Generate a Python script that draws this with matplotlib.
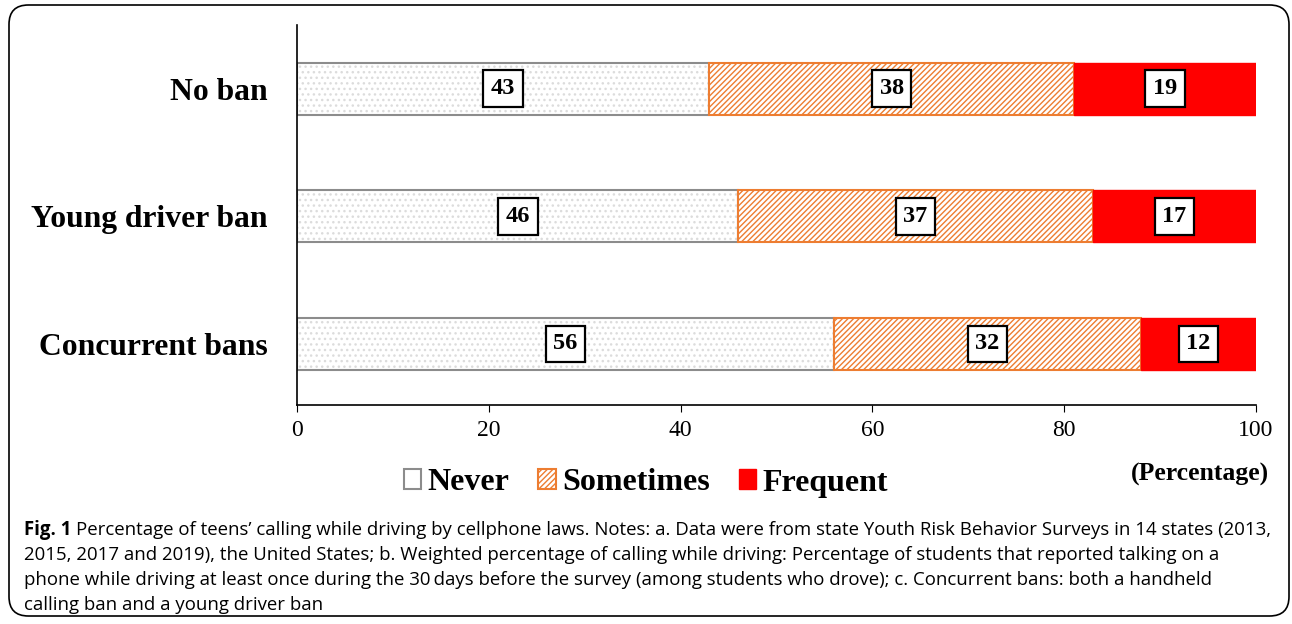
import matplotlib
matplotlib.use("Agg")
from matplotlib import pyplot as plt
from matplotlib.patches import FancyBboxPatch, Patch
import numpy as np

plt.rcParams['hatch.linewidth'] = 1.0

categories = ['No ban', 'Young driver ban', 'Concurrent bans']
never = [43, 46, 56]
sometimes = [38, 37, 32]
frequent = [19, 17, 12]
xticks = [0, 20, 40, 60, 80, 100]

serif = 'Liberation Serif'
sans = 'Open Sans'

fig = plt.figure(figsize=(12.92, 6.24), dpi=100)
ax = fig.add_axes([297 / 1292, 1 - 405 / 624, (1256 - 297) / 1292, (405 - 25) / 624])

y = np.arange(len(categories))
h = 0.41
never_l = np.zeros(3)
some_l = np.array(never)
freq_l = some_l + np.array(sometimes)

# Never: light dotted fill with grey outline
ax.barh(y, never, left=never_l, height=h, color='white', edgecolor='#dcdcdc',
        hatch='...', linewidth=0)
ax.barh(y, never, left=never_l, height=h, color='none', edgecolor='#8c8c8c', linewidth=1.5)
ax.barh(y, sometimes, left=some_l, height=h, color='white', edgecolor='#ed7d31',
        hatch='//////', linewidth=1.5)
ax.barh(y, frequent, left=freq_l, height=h, color='#ff0000', edgecolor='#ff0000', linewidth=1)

for lefts, vals in [(never_l, never), (some_l, sometimes), (freq_l, frequent)]:
    for i in range(3):
        ax.text(lefts[i] + vals[i] / 2, y[i], str(vals[i]), ha='center', va='center',
                family=serif, fontweight='bold', fontsize=17.5,
                bbox=dict(boxstyle='square,pad=0.32', fc='white', ec='black', lw=1.6))

ax.set_xlim(0, 100)
ax.set_ylim(2.48, -0.5)
ax.set_xticks(xticks)
ax.set_xticklabels([str(t) for t in xticks], family=serif, fontsize=17)
ax.set_yticks(y)
ax.set_yticklabels(categories, family=serif, fontweight='bold', fontsize=22.8)
ax.tick_params(axis='y', length=0, pad=21)
ax.tick_params(axis='x', length=5, direction='out', pad=6)
for s in ['top', 'right']:
    ax.spines[s].set_visible(False)
ax.spines['left'].set_linewidth(1.2)
ax.spines['bottom'].set_linewidth(1.2)

handles = [
    Patch(facecolor='white', edgecolor='#8c8c8c', linewidth=1.5, label='Never'),
    Patch(facecolor='white', edgecolor='#ed7d31', hatch='//////', linewidth=1.5, label='Sometimes'),
    Patch(facecolor='#ff0000', edgecolor='#ff0000', label='Frequent'),
]
fig.legend(handles=handles, loc='center', bbox_to_anchor=(646 / 1292, 1 - 483 / 624), ncol=3,
           frameon=False, prop={'family': serif, 'weight': 'bold', 'size': 23},
           handlelength=0.55, handleheight=0.6, handletextpad=0.2, columnspacing=0.9)

fig.text(1200 / 1292, 1 - 474 / 624, '(Percentage)', ha='center', va='center',
         family=serif, fontweight='bold', fontsize=18.5)

# caption box
box = FancyBboxPatch((9 / 1292, 8 / 624), (1289 - 9) / 1292, (619 - 8) / 624,
                     boxstyle='round,pad=0,rounding_size=0.015', transform=fig.transFigure,
                     fc='none', ec='black', lw=1.2, mutation_aspect=1292 / 624)
fig.add_artist(box)

lines = [
    "Percentage of teens\u2019 calling while driving by cellphone laws. Notes: a. Data were from state Youth Risk Behavior Surveys in 14 states (2013,",
    "2015, 2017 and 2019), the United States; b. Weighted percentage of calling while driving: Percentage of students that reported talking on a",
    "phone while driving at least once during the 30\u2009days before the survey (among students who drove); c. Concurrent bans: both a handheld",
    "calling ban and a young driver ban",
]
cap_x = 24 / 1292
cap_y = [530, 555, 580, 605]
fs = 13.4
bold = fig.text(cap_x, 1 - cap_y[0] / 624, 'Fig. 1', family=sans, fontweight='bold',
                fontsize=fs, va='center', ha='left')
fig.canvas.draw()
bb = bold.get_window_extent(fig.canvas.get_renderer())
fig.text((bb.x1 + 5) / fig.bbox.width, 1 - cap_y[0] / 624, lines[0],
         family=[sans, 'DejaVu Sans'], fontsize=fs, va='center', ha='left')
for ln, yy in zip(lines[1:], cap_y[1:]):
    fig.text(cap_x, 1 - yy / 624, ln, family=[sans, 'DejaVu Sans'], fontsize=fs,
             va='center', ha='left')

fig.savefig('out.png', dpi=100)
